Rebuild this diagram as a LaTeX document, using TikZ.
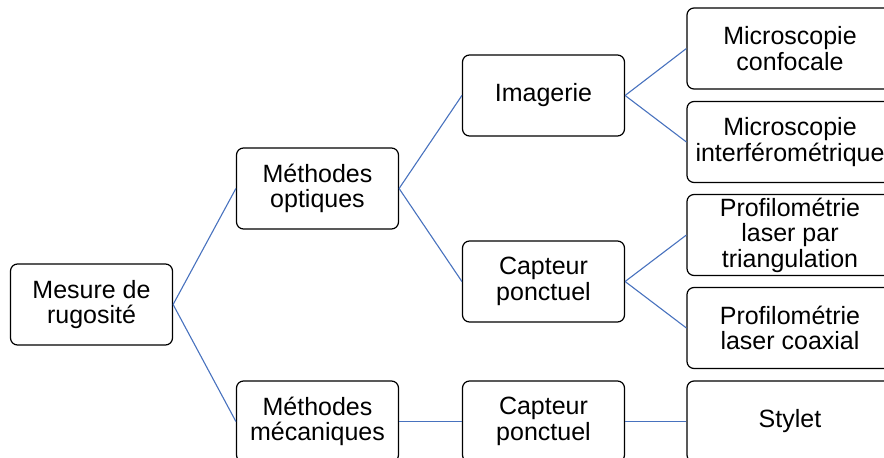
\documentclass[tikz,border=0pt]{standalone}
\usepackage{fontspec}
\setmainfont{Liberation Sans}
\definecolor{linkblue}{RGB}{72,114,190}

\begin{document}
\begin{tikzpicture}[x=1pt,y=-1pt,
  box/.style={draw,rounded corners=7pt,line width=1.2pt,minimum width=162pt,minimum height=81pt,
    align=center,inner sep=0pt,font=\fontsize{25}{25.5}\selectfont},
  widebox/.style={box,minimum width=206pt},
  link/.style={draw=linkblue,line width=1.1pt}]
\clip (0,0) rectangle (884,458);
\node[box] (mesure) at (91.5,304.5) {Mesure de\\rugosité};
\node[box] (optiques) at (317.5,188.5) {Méthodes\\optiques};
\node[box] (mecaniques) at (317.5,421.5) {Méthodes\\mécaniques};
\node[box] (imagerie) at (543.5,95.5) {Imagerie};
\node[box] (capteurA) at (543.5,281.5) {Capteur\\ponctuel};
\node[box] (capteurB) at (543.5,421.5) {Capteur\\ponctuel};
\node[widebox] (confocale) at (790,48.5) {Microscopie\\confocale};
\node[widebox] (interfero) at (790,142) {Microscopie\\interférométrique};
\node[widebox] (triangul) at (790,235) {Profilométrie\\laser par\\triangulation};
\node[widebox] (coaxial) at (790,328) {Profilométrie\\laser coaxial};
\node[widebox] (stylet) at (790,421.5) {Stylet};
% liens
\foreach \a/\b in {mesure/optiques,mesure/mecaniques,optiques/imagerie,optiques/capteurA,
  mecaniques/capteurB,imagerie/confocale,imagerie/interfero,capteurA/triangul,
  capteurA/coaxial,capteurB/stylet}
  \draw[link] (\a.east) -- (\b.west);
\end{tikzpicture}
\end{document}
